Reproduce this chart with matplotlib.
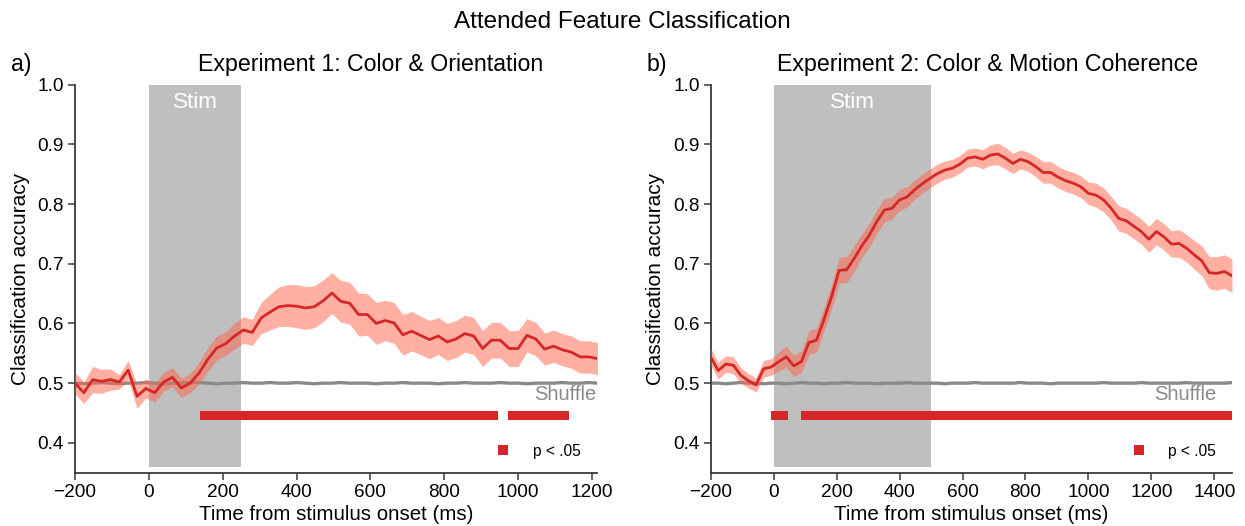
import numpy as np
import matplotlib
matplotlib.use("Agg")
import matplotlib.pyplot as plt
from matplotlib.lines import Line2D

plt.rcParams["font.family"] = ["Liberation Sans", "DejaVu Sans"]

# ---------------- data ----------------
start_ms = -200
step_ms = 24

# Experiment 1: colour & orientation
acc_exp1 = [
    0.500, 0.484, 0.506, 0.503, 0.506, 0.502, 0.522, 0.478, 0.491, 0.484,
    0.502, 0.510, 0.492, 0.500, 0.517, 0.540, 0.559, 0.566, 0.579, 0.589,
    0.585, 0.609, 0.619, 0.628, 0.630, 0.629, 0.626, 0.628, 0.638, 0.651,
    0.637, 0.634, 0.615, 0.615, 0.600, 0.605, 0.601, 0.581, 0.587, 0.580,
    0.573, 0.579, 0.569, 0.574, 0.583, 0.579, 0.558, 0.572, 0.572, 0.558,
    0.558, 0.580, 0.574, 0.557, 0.562, 0.556, 0.552, 0.544, 0.544, 0.541,
]
sem_exp1 = [
    0.018, 0.018, 0.022, 0.020, 0.018, 0.012, 0.016, 0.020, 0.016, 0.016,
    0.016, 0.016, 0.016, 0.016, 0.018, 0.020, 0.020, 0.020, 0.022, 0.022,
    0.022, 0.026, 0.030, 0.033, 0.035, 0.036, 0.036, 0.035, 0.035, 0.034,
    0.035, 0.035, 0.036, 0.035, 0.035, 0.034, 0.034, 0.034, 0.033, 0.032,
    0.032, 0.031, 0.031, 0.031, 0.031, 0.031, 0.030, 0.030, 0.030, 0.030,
    0.030, 0.028, 0.028, 0.027, 0.027, 0.027, 0.027, 0.027, 0.027, 0.027,
]
shuffle_exp1 = [
    0.500, 0.499, 0.500, 0.501, 0.500, 0.499, 0.500, 0.500, 0.501, 0.500,
    0.499, 0.500, 0.500, 0.501, 0.501, 0.500, 0.499, 0.500, 0.500, 0.501,
    0.500, 0.500, 0.501, 0.500, 0.500, 0.501, 0.500, 0.499, 0.500, 0.500,
    0.501, 0.500, 0.500, 0.500, 0.499, 0.500, 0.500, 0.501, 0.500, 0.500,
    0.500, 0.499, 0.500, 0.500, 0.501, 0.500, 0.500, 0.500, 0.501, 0.500,
    0.500, 0.499, 0.500, 0.500, 0.500, 0.501, 0.500, 0.500, 0.501, 0.500,
]
sig_exp1 = [(138, 947), (973, 1137)]
stim_exp1 = (0, 250)

# Experiment 2: colour & motion coherence
acc_exp2 = [
    0.544, 0.521, 0.532, 0.530, 0.513, 0.504, 0.497, 0.524, 0.527, 0.536,
    0.544, 0.529, 0.536, 0.568, 0.572, 0.607, 0.645, 0.689, 0.690, 0.709,
    0.730, 0.748, 0.771, 0.790, 0.793, 0.807, 0.812, 0.824, 0.834, 0.843,
    0.851, 0.857, 0.860, 0.867, 0.877, 0.879, 0.875, 0.882, 0.884, 0.877,
    0.868, 0.875, 0.871, 0.863, 0.853, 0.853, 0.845, 0.839, 0.835, 0.829,
    0.818, 0.815, 0.807, 0.793, 0.776, 0.772, 0.763, 0.754, 0.741, 0.754,
    0.745, 0.733, 0.734, 0.726, 0.715, 0.705, 0.685, 0.684, 0.687, 0.680,
]
sem_exp2 = [
    0.014, 0.014, 0.014, 0.014, 0.013, 0.012, 0.012, 0.014, 0.014, 0.016,
    0.018, 0.018, 0.018, 0.020, 0.020, 0.020, 0.020, 0.022, 0.022, 0.022,
    0.020, 0.020, 0.020, 0.020, 0.018, 0.018, 0.017, 0.016, 0.016, 0.016,
    0.016, 0.015, 0.015, 0.015, 0.015, 0.015, 0.016, 0.017, 0.018, 0.018,
    0.017, 0.016, 0.016, 0.017, 0.018, 0.018, 0.018, 0.018, 0.018, 0.018,
    0.019, 0.020, 0.020, 0.020, 0.021, 0.021, 0.021, 0.021, 0.022, 0.022,
    0.022, 0.022, 0.023, 0.023, 0.024, 0.025, 0.027, 0.028, 0.028, 0.028,
]
shuffle_exp2 = [
    0.500, 0.500, 0.499, 0.500, 0.501, 0.500, 0.500, 0.499, 0.500, 0.500,
    0.499, 0.500, 0.501, 0.500, 0.500, 0.499, 0.500, 0.500, 0.501, 0.500,
    0.500, 0.500, 0.499, 0.500, 0.500, 0.500, 0.501, 0.500, 0.500, 0.500,
    0.500, 0.499, 0.500, 0.500, 0.500, 0.501, 0.500, 0.500, 0.500, 0.500,
    0.500, 0.501, 0.500, 0.500, 0.500, 0.499, 0.500, 0.500, 0.500, 0.500,
    0.500, 0.500, 0.501, 0.500, 0.500, 0.500, 0.500, 0.501, 0.500, 0.500,
    0.500, 0.500, 0.500, 0.501, 0.500, 0.500, 0.500, 0.500, 0.500, 0.501,
]
sig_exp2 = [(-8, 44), (88, 1457)]
stim_exp2 = (0, 500)

panel_titles = ["Experiment 1: Color & Orientation",
                "Experiment 2: Color & Motion Coherence"]
panel_letters = ["a)", "b)"]
y_ticks = [0.4, 0.5, 0.6, 0.7, 0.8, 0.9, 1.0]
x_ticks = [[-200, 0, 200, 400, 600, 800, 1000, 1200],
           [-200, 0, 200, 400, 600, 800, 1000, 1200, 1400]]
x_limits = [(-200, 1213), (-200, 1457)]

# ---------------- style ----------------
RED = "#d62728"
BAND = "#ff6347"
STIM_GREY = "#bfbfbf"
SHUF_GREY = "#8a8a8a"
SPINE = "#3a3a3a"
Y_MIN, Y_MAX = 0.35, 1.0
SHADE_BOTTOM = 0.36
SIG_Y, SIG_H = 0.438, 0.015

W, H = 1245, 526
fig = plt.figure(figsize=(W / 100, H / 100), dpi=100)

ax_boxes = [
    (75 / W, 1 - 472.7 / H, 521.7 / W, 388 / H),
    (710.7 / W, 1 - 472.7 / H, 521.6 / W, 388 / H),
]
title_x = [371 / W, 988 / W]
letter_x = [11 / W, 647 / W]
shuffle_x = [1.0, 0.970]

panels = [
    (acc_exp1, sem_exp1, shuffle_exp1, sig_exp1, stim_exp1),
    (acc_exp2, sem_exp2, shuffle_exp2, sig_exp2, stim_exp2),
]

for i, (acc, sem, shuf, sig, stim) in enumerate(panels):
    ax = fig.add_axes(ax_boxes[i])
    acc = np.asarray(acc)
    sem = np.asarray(sem)
    t = start_ms + step_ms * np.arange(len(acc))

    # stimulus window
    ax.axvspan(stim[0], stim[1],
               ymin=(SHADE_BOTTOM - Y_MIN) / (Y_MAX - Y_MIN), ymax=1.0,
               color=STIM_GREY, lw=0, zorder=0)
    ax.text((stim[0] + stim[1]) / 2, 0.9605, "Stim", color="white",
            ha="center", va="baseline", fontsize=16.2, zorder=1)

    # shuffled-label baseline
    ax.plot(t, shuf, color=SHUF_GREY, lw=2.4, zorder=2)
    ax.text(shuffle_x[i], 0.471, "Shuffle", color=SHUF_GREY,
            transform=ax.get_yaxis_transform(), ha="right", va="baseline",
            fontsize=14.5)

    # classification accuracy with SEM band
    ax.fill_between(t, acc - sem, acc + sem, color=BAND, alpha=0.5, lw=0,
                    zorder=3)
    ax.plot(t, acc, color=RED, lw=2.0, zorder=4)

    # significant clusters
    ax.broken_barh([(a, b - a) for a, b in sig], (SIG_Y, SIG_H),
                   facecolor=RED, edgecolor="none", zorder=4)

    handle = Line2D([], [], ls="", marker="s", ms=6.7, color=RED,
                    markeredgewidth=0)
    ax.legend([handle], ["p < .05"], loc="center left",
              bbox_to_anchor=(0.8054, 0.0554), frameon=False, fontsize=11.2,
              handlelength=1.0, handletextpad=1.4, borderpad=0,
              borderaxespad=0)

    ax.set_xlim(*x_limits[i])
    ax.set_ylim(Y_MIN, Y_MAX)
    ax.set_xticks(x_ticks[i])
    ax.set_yticks(y_ticks)
    ax.set_yticklabels([f"{v:.1f}" for v in y_ticks])
    ax.tick_params(labelsize=13.7, length=5, width=1.1, color=SPINE,
                   pad=3)
    for side in ("top", "right"):
        ax.spines[side].set_visible(False)
    for side in ("left", "bottom"):
        ax.spines[side].set_color(SPINE)
        ax.spines[side].set_linewidth(1.3)

    ax.set_xlabel("Time from stimulus onset (ms)", fontsize=14.8, labelpad=3)
    ax.set_ylabel("Classification accuracy", fontsize=15)
    ax.yaxis.set_label_coords(-0.087, 0.5)

    fig.text(title_x[i], 1 - 70.5 / H, panel_titles[i], ha="center",
             va="baseline", fontsize=16.7)
    fig.text(letter_x[i], 1 - 70.5 / H, panel_letters[i], ha="left",
             va="baseline", fontsize=16.7)

fig.text(622 / W, 1 - 28 / H, "Attended Feature Classification",
         ha="center", va="baseline", fontsize=17.5)

fig.savefig("out.png", dpi=100)
